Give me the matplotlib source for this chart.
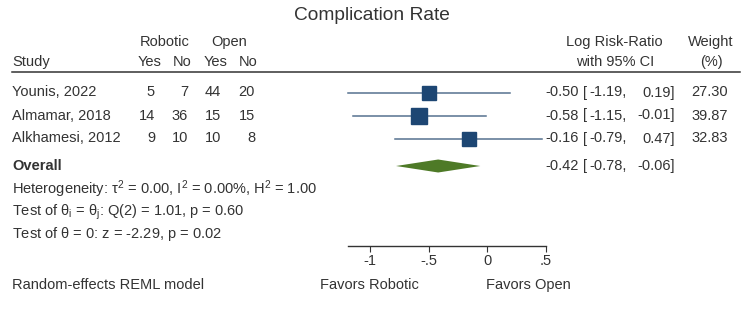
import numpy as np
import matplotlib
matplotlib.use("Agg")
import matplotlib.pyplot as plt
from matplotlib.transforms import blended_transform_factory
from matplotlib.ticker import FuncFormatter

plt.rcParams['font.family'] = ['Liberation Sans', 'DejaVu Sans']
plt.rcParams['mathtext.fontset'] = 'custom'
plt.rcParams['mathtext.rm'] = 'Liberation Sans'
plt.rcParams['mathtext.it'] = 'Liberation Sans'

# datos
studies = ["Younis, 2022", "Almamar, 2018", "Alkhamesi, 2012"]
rob_yes = [5, 14, 9]
rob_no = [7, 36, 10]
open_yes = [44, 15, 10]
open_no = [20, 15, 8]
est = [-0.50, -0.58, -0.16]
lo = [-1.19, -1.15, -0.79]
hi = [0.19, -0.01, 0.47]
weight = [27.30, 39.87, 32.83]
overall = [-0.42, -0.78, -0.06]
ticks = [-1, -0.5, 0, 0.5]

txt = "#333333"
ci_col = "#56728f"
box_col = "#1d4673"
dia_col = "#4e7a27"
fs = 10.5

W, H = 750, 316
zero_px, unit_px = 487.3, 117.0

fig = plt.figure(figsize=(7.5, 3.16), dpi=100)
ax = fig.add_axes([0, 0, 1, 1])
ax.set_xlim(-zero_px / unit_px, (W - zero_px) / unit_px)
ax.set_ylim(H, 0)
ax.patch.set_visible(False)
tr = blended_transform_factory(ax.transAxes, ax.transData)

def T(x, y, s, ha="left", **kw):
    ax.text(x / W, y, s, ha=ha, va="center", transform=tr, fontsize=kw.pop("fontsize", fs),
            color=txt, **kw)

# titulo
fig.text(372 / W, 1 - 15 / H, "Complication Rate", ha="center", va="center",
         fontsize=13.8, color=txt)

# encabezados
T(165, 42, "Robotic", ha="center")
T(229, 42, "Open", ha="center")
T(12, 62, "Study")
for xh, s in zip([162, 191, 228, 258], ["Yes", "No", "Yes", "No"]):
    T(xh, 62, s, ha="right")
T(614, 42, "Log Risk-Ratio", ha="center")
T(615, 62, "with 95% CI", ha="center")
T(711, 42, "Weight", ha="center")
T(711, 62, "(%)", ha="center")
ax.plot([12 / W, 740 / W], [72, 72], transform=tr, color=txt, lw=1.1)

# filas
row_y = [92.5 + 23 * i for i in range(len(studies))]
for i, y in enumerate(row_y):
    T(12, y, studies[i])
    T(155, y, str(rob_yes[i]), ha="right")
    T(188, y, str(rob_no[i]), ha="right")
    T(221, y, str(open_yes[i]), ha="right")
    T(255, y, str(open_no[i]), ha="right")
    ax.plot([lo[i], hi[i]], [y, y], color=ci_col, lw=1.1, zorder=2)
    ax.plot(est[i], y, marker="s", ms=1.8 * np.sqrt(weight[i]), color=box_col,
            mec=box_col, zorder=3)
    T(579, y, f"{est[i]:.2f}", ha="right")
    T(583, y, "[")
    T(627, y, f"{lo[i]:.2f},", ha="right")
    T(675, y, f"{hi[i]:.2f}]", ha="right")
    T(728, y, f"{weight[i]:.2f}", ha="right")

# global
oy = 166
T(12, oy, "Overall", fontweight="bold")
ax.fill([overall[1], overall[0], overall[2], overall[0]], [oy, oy - 6.5, oy, oy + 6.5],
        color=dia_col, lw=0, zorder=3)
T(579, oy, f"{overall[0]:.2f}", ha="right")
T(583, oy, "[")
T(627, oy, f"{overall[1]:.2f},", ha="right")
T(675, oy, f"{overall[2]:.2f}]", ha="right")

T(12, 189, r"Heterogeneity: $\tau^2$ = 0.00, I$^2$ = 0.00%, H$^2$ = 1.00")
T(12, 212, r"Test of $\theta_i$ = $\theta_j$: Q(2) = 1.01, p = 0.60")
T(12, 234, r"Test of $\theta$ = 0: z = -2.29, p = 0.02")
T(12, 285, "Random-effects REML model")
T(369, 285, "Favors Robotic", ha="center")
T(486, 285, "Favors Open")

# eje
for s in ["top", "left", "right"]:
    ax.spines[s].set_visible(False)
ax.spines["bottom"].set_position(("data", 246))
ax.spines["bottom"].set_bounds(min(lo), max(ticks))
ax.spines["bottom"].set_color(txt)
ax.spines["bottom"].set_linewidth(1.0)
ax.set_xticks(ticks)
ax.xaxis.set_major_formatter(FuncFormatter(lambda v, p: ("%g" % v).replace("0.", ".")))
ax.tick_params(axis="x", direction="out", length=4, width=0.8, pad=2, labelsize=fs,
               colors=txt)
ax.set_yticks([])

plt.savefig("out.png", dpi=100)
